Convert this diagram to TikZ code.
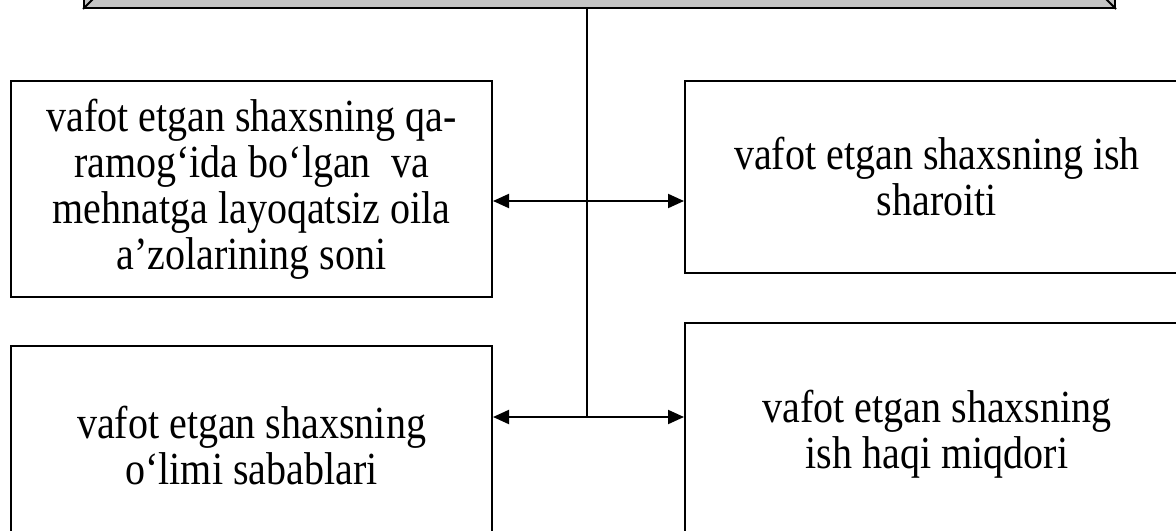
\documentclass[tikz,border=0pt]{standalone}
\usepackage{fontspec}
\setmainfont{Liberation Serif}[FakeStretch=0.87]
\usepackage{tikz}
\usetikzlibrary{
  arrows.meta,
  positioning,
  calc
}
\definecolor{headgray}{RGB}{196,196,196}
\tikzset{
  box/.style={
    rectangle, draw=black, line width=1pt, fill=white,
    align=center, inner sep=4pt
  },
  headbox/.style={
    rectangle, draw=black, line width=1pt, fill=headgray,
    minimum width=515.5pt, minimum height=50pt
  },
  arrow/.style={-{Triangle[length=8pt,width=7pt]}, line width=1pt},
  trunk/.style={line width=1pt}
}

\begin{document}
\begin{tikzpicture}[x=0.5pt, y=-0.5pt, font=\fontsize{23}{23}\selectfont,
    node distance=23.5pt and 95.5pt]
  \useasboundingbox (0,0) rectangle (1176,530);
  \clip (0,0) rectangle (1176,530);

  % header (cut off at the top)
  \node[headbox, anchor=south west] (head) at (83,9) {};
  \draw[trunk] (head.south west) -- ++(6pt,6pt);
  \draw[trunk] (head.south east) -- ++(-6pt,6pt);

  \node[box, minimum width=240.5pt, minimum height=108pt] (dependants) at (251.5,189)
    {vafot etgan shaxsning qa-\\ramog‘ida bo‘lgan\ \ va\\mehnatga layoqatsiz oila\\a’zolarining soni};
  \node[box, right=95.5pt of dependants, yshift=6pt,
        minimum width=252pt, minimum height=96pt]
    (conditions) {vafot etgan shaxsning ish\\sharoiti};

  \node[box, below=23.5pt of dependants, minimum width=240.5pt, minimum height=100pt]
    (causes) {vafot etgan shaxsning\\o‘limi sabablari};
  \node[box, below=24pt of conditions, minimum width=252pt, minimum height=111.5pt]
    (wages) {vafot etgan shaxsning\\ish haqi miqdori};

  \coordinate (upper) at (587,201);
  \coordinate (lower) at (587,417);

  \draw[trunk] (head.south -| lower) -- (lower);
  \draw[arrow] (upper) -- (upper -| dependants.east);
  \draw[arrow] (upper) -- (upper -| conditions.west);
  \draw[arrow] (lower) -- (lower -| causes.east);
  \draw[arrow] (lower) -- (lower -| wages.west);
\end{tikzpicture}
\end{document}
